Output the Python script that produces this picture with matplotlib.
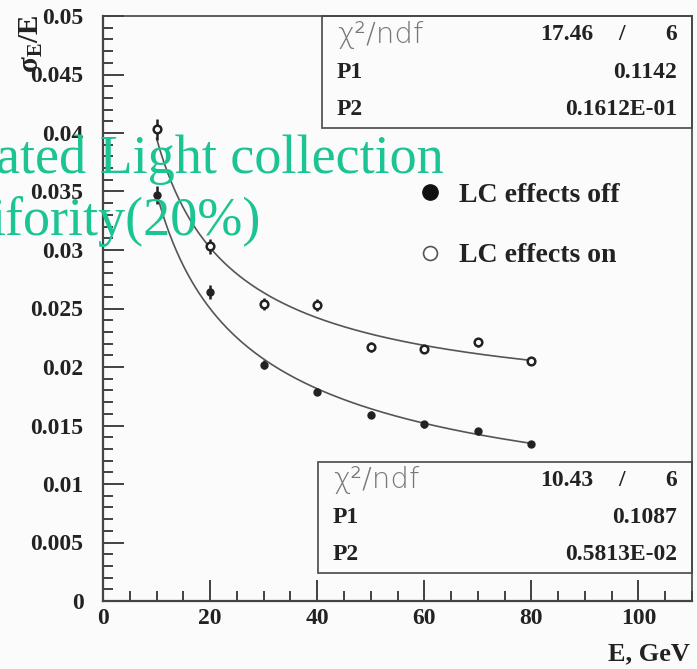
import numpy as np
import matplotlib
matplotlib.use("Agg")
import matplotlib.pyplot as plt
from matplotlib.lines import Line2D
from matplotlib.patches import Rectangle
from matplotlib.ticker import MultipleLocator

plt.rcParams['font.family'] = ['Liberation Serif', 'DejaVu Serif']
plt.rcParams['mathtext.fontset'] = 'custom'
plt.rcParams['mathtext.rm'] = 'Liberation Serif:bold'
plt.rcParams['mathtext.it'] = 'Liberation Serif:bold'
plt.rcParams['mathtext.bf'] = 'Liberation Serif:bold'

energy = [10, 20, 30, 40, 50, 60, 70, 80]

res_off = [0.0347, 0.0264, 0.0202, 0.0179, 0.0159, 0.0151, 0.0145, 0.0134]
err_off = [0.0008, 0.0006, 0.0004, 0.0003, 0.0003, 0.0003, 0.0003, 0.0002]

res_on = [0.0403, 0.0303, 0.0254, 0.0253, 0.0217, 0.0215, 0.0221, 0.0205]
err_on = [0.0009, 0.0006, 0.0005, 0.0005, 0.0004, 0.0003, 0.0004, 0.0003]

# fit results: sigma/E = P1/sqrt(E) (+) P2
fit_off = dict(chi2=10.43, ndf=6, p1=0.1087, p2=0.5813e-02)
fit_on = dict(chi2=17.46, ndf=6, p1=0.1142, p2=0.1612e-01)


def resolution(e, p1, p2):
    return np.sqrt((p1 / np.sqrt(e)) ** 2 + p2 ** 2)


W, H = 697, 669
fig = plt.figure(figsize=(W / 100, H / 100), dpi=100, facecolor='#fbfbfb')
ax = fig.add_axes([103 / W, 1 - 601 / H, (692 - 103) / W, (601 - 16) / H])
ax.set_facecolor('#fbfbfb')

ee = np.linspace(10, 80, 300)
ax.plot(ee, resolution(ee, fit_on['p1'], fit_on['p2']), color='#555555', lw=1.2)
ax.plot(ee, resolution(ee, fit_off['p1'], fit_off['p2']), color='#555555', lw=1.2)

ax.errorbar(energy, res_off, yerr=err_off, fmt='o', ms=5, color='#222222',
            mfc='#222222', elinewidth=1.8, capsize=0)
ax.errorbar(energy, res_on, yerr=err_on, fmt='o', ms=5.5, color='#222222',
            mfc='white', mew=1.8, elinewidth=1.8, capsize=0)

ax.set_xlim(0, 110)
ax.set_ylim(0, 0.05)
ax.xaxis.set_major_locator(MultipleLocator(20))
ax.xaxis.set_minor_locator(MultipleLocator(5))
ax.yaxis.set_minor_locator(MultipleLocator(0.001))
ax.set_yticks(np.arange(0, 0.0501, 0.005))
ax.set_yticklabels(['0', '0.005', '0.01', '0.015', '0.02', '0.025',
                    '0.03', '0.035', '0.04', '0.045', '0.05'])
ax.tick_params(which='both', direction='in', top=False, right=False,
               color='#333333', width=1.3)
ax.tick_params(which='major', length=15)
ax.tick_params(which='minor', length=7.5)
ax.tick_params(axis='y', pad=14)
ax.tick_params(axis='x', pad=5)
for lab in ax.get_xticklabels() + ax.get_yticklabels():
    lab.set_fontsize(17)
    lab.set_fontweight('bold')
    lab.set_color('#222222')
for sp in ax.spines.values():
    sp.set_linewidth(1.6)
    sp.set_color('#444444')
ax.spines['top'].set_linewidth(1.2)
ax.spines['right'].set_linewidth(1.2)

# axis titles
fig.text(690 / W, 1 - 660 / H, 'E, GeV', ha='right', va='baseline',
         fontsize=19, fontweight='bold', color='#222222')
fig.text(31 / W, 1 - 15 / H, r'$\mathrm{\sigma}_{E}/E$', rotation=90,
         ha='center', va='top', fontsize=21, color='#222222')

# legend
handles = [Line2D([], [], ls='none', marker='o', ms=11, color='#111111'),
           Line2D([], [], ls='none', marker='o', ms=10, mfc='white',
                  mec='#555555', mew=1.2)]
ax.legend(handles, ['LC effects off', 'LC effects on'], loc='center left',
          bbox_to_anchor=(0.489, 0.642), frameon=False, handlelength=1.0,
          handletextpad=0.55, labelspacing=1.25,
          prop=dict(size=20, weight='bold'), labelcolor='#222222')


def stats_box(fit, x0, y0, y1):
    # box in axes fraction, rows laid out top to bottom
    ax.add_patch(Rectangle((x0, y0), 1 - x0, y1 - y0, transform=ax.transAxes,
                           fill=False, ec='#555555', lw=1.3, clip_on=False))
    h = (y1 - y0) / 3
    xl = x0 + 15 / 589
    xr = (677 - 103) / 589
    rows = [y1 - h * (i + 0.5) for i in range(3)]
    ax.text(xl, rows[0], 'χ²/ndf', transform=ax.transAxes, va='center',
            ha='left', fontsize=21, color='#777777', family='DejaVu Sans',
            fontweight='light')
    ax.text((593 - 103) / 589, rows[0], f"{fit['chi2']:.2f}", transform=ax.transAxes,
            va='center', ha='right', fontsize=17, fontweight='bold', color='#222222')
    ax.text((622 - 103) / 589, rows[0], '/', transform=ax.transAxes,
            va='center', ha='center', fontsize=17, fontweight='bold', color='#222222')
    ax.text(xr, rows[0], f"{fit['ndf']}", transform=ax.transAxes,
            va='center', ha='right', fontsize=17, fontweight='bold', color='#222222')
    ax.text(xl, rows[1], 'P1', transform=ax.transAxes, va='center', ha='left',
            fontsize=17, fontweight='bold', color='#222222')
    ax.text(xr, rows[1], f"{fit['p1']:.4f}", transform=ax.transAxes, va='center',
            ha='right', fontsize=17, fontweight='bold', color='#222222')
    ax.text(xl, rows[2], 'P2', transform=ax.transAxes, va='center', ha='left',
            fontsize=17, fontweight='bold', color='#222222')
    mant, expo = f"{fit['p2']:.3E}".split('E')
    p2_txt = f"0.{mant.replace('.', '')}E{int(expo) + 1:+03d}".replace('+', '')
    ax.text(xr, rows[2], p2_txt, transform=ax.transAxes, va='center',
            ha='right', fontsize=17, fontweight='bold', color='#222222')


stats_box(fit_on, (322 - 103) / 589, (601 - 128) / 585, 1.0)
stats_box(fit_off, (318 - 103) / 589, (601 - 573) / 585, (601 - 462) / 585)

# overlay caption
green = '#1cc393'
fig.text(-4 / W, 1 - 173 / H, 'ated Light collection', ha='left', va='baseline',
         fontsize=39, color=green)
fig.text(-9 / W, 1 - 235 / H, 'ifority(20%)', ha='left', va='baseline',
         fontsize=39, color=green)

fig.savefig('out.png', dpi=100, facecolor=fig.get_facecolor())
